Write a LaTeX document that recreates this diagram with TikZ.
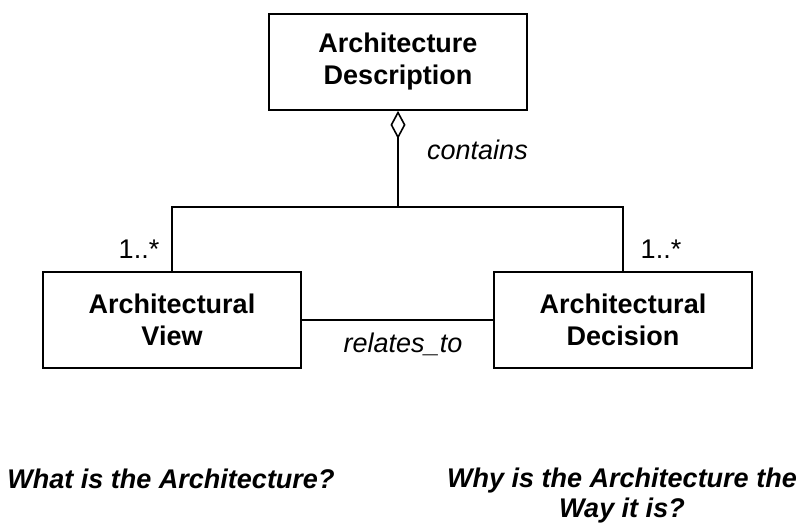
\documentclass[tikz,border=0pt]{standalone}
\usepackage{fontspec}
\setmainfont{Liberation Sans}
\usetikzlibrary{arrows.meta}

\begin{document}
\begin{tikzpicture}[x=1pt, y=-1pt,
  every node/.style={inner sep=0pt, font=\fontsize{27}{32}\selectfont},
  classbox/.style={draw, line width=1.7pt, minimum width=258pt, minimum height=96pt,
                   align=center, font=\fontsize{27}{32}\selectfont\bfseries},
  conn/.style={line width=1.6pt},
  aggregation/.style={conn, {Diamond[open, length=28pt, width=15pt, line width=1.6pt]}-},
  rolelabel/.style={font=\fontsize{27}{32}\selectfont\itshape},
  question/.style={align=center, font=\fontsize{27}{30}\selectfont\bfseries\itshape}]

  \useasboundingbox (0,0) rectangle (803,525);

  % classes
  \node[classbox] (ad)  at (398,62)  {Architecture\\Description};
  \node[classbox] (av)  at (172,320) {Architectural\\View};
  \node[classbox] (dec) at (623,320) {Architectural\\Decision};

  % aggregation with its branching bar
  \coordinate (jn) at (398,207);
  \draw[aggregation] (ad.south) -- (jn);
  \draw[conn] (av.north) |- (jn) -| (dec.north);

  % association between view and decision
  \draw[conn] (av.east) -- (dec.west);

  % labels
  \node[rolelabel, anchor=base west] (lcont) at (427,159) {contains};
  \node[rolelabel, anchor=base] (lrel) at (403,352) {relates\_to};
  \node[anchor=base] (mv) at (139,258) {1..*};
  \node[anchor=base] (md) at (661,258) {1..*};

  % questions under each side
  \node[question, anchor=base] (qwhat) at (171,488) {What is the Architecture?};
  \node[question] (qwhy) at (622,496) {Why is the Architecture the\\Way it is?};
\end{tikzpicture}
\end{document}
